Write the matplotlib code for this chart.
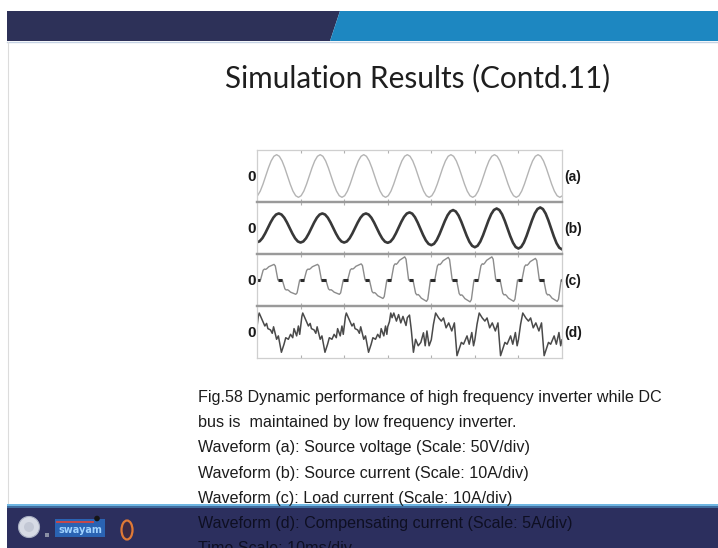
import numpy as np
import matplotlib
matplotlib.use('Agg')
import matplotlib.pyplot as plt
from matplotlib.patches import Polygon, Rectangle, Circle, Ellipse

W, H = 718, 548

TITLE = 'Simulation Results (Contd.11)'
CAPTION = [
    'Fig.58 Dynamic performance of high frequency inverter while DC',
    'bus is  maintained by low frequency inverter.',
    'Waveform (a): Source voltage (Scale: 50V/div)',
    'Waveform (b): Source current (Scale: 10A/div)',
    'Waveform (c): Load current (Scale: 10A/div)',
    'Waveform (d): Compensating current (Scale: 5A/div)',
    'Time Scale: 10ms/div',
]
PANEL_LABELS = ['(a)', '(b)', '(c)', '(d)']
N_DIV = 7

# shape of one half cycle going from one extreme to the next (fraction of swing)
HALF_T = [0, 0.125, 0.25, 0.375, 0.5, 0.625, 0.75, 0.875, 1.0]
HALF_V = [0, 0.038, 0.146, 0.309, 0.5, 0.691, 0.854, 0.962, 1.0]

# (a) source voltage, extremes (time in div, value in half-panel units)
VS_EXT_T = [-0.05, 0.45, 0.95, 1.45, 1.95, 2.45, 2.95, 3.45,
            3.95, 4.45, 4.95, 5.45, 5.95, 6.45, 6.95, 7.45]
VS_EXT_V = [-0.82, 0.82, -0.82, 0.82, -0.82, 0.82, -0.82, 0.82,
            -0.82, 0.82, -0.82, 0.82, -0.82, 0.82, -0.82, 0.82]

# (b) source current, extremes - amplitude grows after 3rd cycle
IS_EXT_T = [0, 0.5, 1, 1.5, 2, 2.5, 3, 3.5, 4, 4.5, 5, 5.5, 6, 6.5, 7]
IS_EXT_V = [-0.55, 0.56, -0.56, 0.56, -0.56, 0.56, -0.57, 0.60,
            -0.66, 0.69, -0.74, 0.75, -0.79, 0.79, -0.82]

# (c) load current, one lobe over half a cycle + lobe heights per cycle
LOBE_U = [0, 0.16, 0.22, 0.28, 0.34, 0.40, 0.46, 0.54, 0.62, 0.70, 0.78, 0.84, 0.90, 0.96, 1.0]
LOBE_V = [0, 0, 0.30, 0.62, 0.70, 0.68, 0.74, 0.85, 0.90, 0.95, 1.0, 0.90, 0.45, 0, 0]
IL_PEAK = [0.60, 0.60, 0.62, 0.89, 0.87, 0.89, 0.83]
IL_TROUGH = [0.55, 0.55, 0.71, 0.82, 0.84, 0.82, 0.82]

# (d) compensating current, one cycle shapes
IC_EARLY_T = [0.0, 0.03, 0.05, 0.10, 0.15, 0.18, 0.22, 0.25, 0.31, 0.35, 0.38, 0.45,
              0.49, 0.56, 0.62, 0.66, 0.72, 0.77, 0.82, 0.85, 0.91, 0.95, 0.98, 1.0]
IC_EARLY_V = [0.20, 0.60, 0.73, 0.54, 0.35, 0.23, 0.33, 0.13, 0.08, -0.05, 0.20, -0.28,
              -0.15, -0.78, -0.47, -0.22, -0.28, -0.09, -0.22, 0.13, -0.15, 0.23, -0.09, 0.20]
IC_MID_T = [0.0, 0.04, 0.07, 0.10, 0.14, 0.20, 0.25, 0.30, 0.35, 0.42, 0.45, 0.50,
            0.54, 0.59, 0.64, 0.70, 0.76, 0.82, 0.86, 0.90, 0.95, 1.0]
IC_MID_V = [0.20, 0.40, 0.73, 0.55, 0.73, 0.42, 0.67, 0.35, 0.60, 0.25, 0.55, 0.65,
            0.10, -0.78, -0.28, -0.53, -0.40, -0.03, -0.53, 0.04, -0.53, -0.30]
IC_LATE_T = [0.0, 0.05, 0.10, 0.17, 0.23, 0.28, 0.34, 0.40, 0.47, 0.53, 0.59,
             0.69, 0.74, 0.82, 0.87, 0.93, 0.97, 1.0]
IC_LATE_V = [-0.30, 0.30, 0.73, 0.54, 0.42, 0.54, 0.16, 0.35, 0.04, 0.35, -0.91,
             -0.40, -0.47, -0.15, -0.47, -0.02, -0.53, -0.30]
IC_CYCLES = ['early', 'early', 'early', 'mid', 'late', 'late', 'late']


def halfwave_series(ext_t, ext_v):
    ts, vs = [ext_t[0]], [ext_v[0]]
    for i in range(len(ext_t) - 1):
        t0, t1 = ext_t[i], ext_t[i + 1]
        v0, v1 = ext_v[i], ext_v[i + 1]
        ts += [t0 + (t1 - t0) * h for h in HALF_T[1:]]
        vs += [v0 + (v1 - v0) * s for s in HALF_V[1:]]
    return np.array(ts), np.array(vs)


def lobe_series(peaks, troughs):
    ts, vs = [], []
    for k in range(N_DIV):
        for j, amp in enumerate([peaks[k], -troughs[k]]):
            t0 = k + 0.5 * j
            ts += [t0 + 0.5 * u for u in LOBE_U]
            vs += [amp * s for s in LOBE_V]
    return np.array(ts), np.array(vs)


def cycle_series(cycles):
    shapes = {'early': (IC_EARLY_T, IC_EARLY_V),
              'mid': (IC_MID_T, IC_MID_V),
              'late': (IC_LATE_T, IC_LATE_V)}
    ts, vs = [], []
    for k, name in enumerate(cycles):
        st, sv = shapes[name]
        ts += [k + t for t in st]
        vs += list(sv)
    return np.array(ts), np.array(vs)


def px(x, y):
    return x / W, 1 - y / H


fig = plt.figure(figsize=(W / 100, H / 100), dpi=100)
fig.patch.set_facecolor('white')

bg = fig.add_axes([0, 0, 1, 1])
bg.set_xlim(0, W)
bg.set_ylim(H, 0)
bg.axis('off')

# top banner
bg.add_patch(Polygon([(7, 11), (340, 11), (330, 41), (7, 41)], closed=True, fc='#2d3158', ec='none'))
bg.add_patch(Polygon([(340, 11), (W, 11), (W, 41), (330, 41)], closed=True, fc='#1d87c1', ec='none'))
bg.plot([7, W], [41.5, 41.5], color='#c4d2e4', lw=1)
bg.plot([7.5, 7.5], [42, 503], color='#dcdcdc', lw=0.8)

# bottom banner
bg.add_patch(Rectangle((7, 503.5), W - 7, H - 503.5, fc='#2c2f5e', ec='none'))
bg.add_patch(Rectangle((7, 503.5), W - 7, 2.5, fc='#6fb6e2', ec='none'))
bg.add_patch(Rectangle((7, 506), W - 7, 2, fc='#3f6c9e', ec='none'))

# logos
bg.add_patch(Circle((29, 527), 10.5, fc='#d7dbe5', ec='#a9afc2', lw=0.8))
bg.add_patch(Circle((29, 527), 5, fc='#c3c8d5', ec='none'))
bg.add_patch(Rectangle((45, 533), 3.5, 3.5, fc='#8a90a5', ec='none'))
bg.add_patch(Rectangle((55, 519), 50, 18, fc='#2a63b3', ec='none'))
bg.plot([57, 93], [521.5, 521.5], color='#c94848', lw=1.4)
bg.add_patch(Circle((97, 518.5), 2.8, fc='#151515', ec='none'))
bg.text(80, 530, 'swayam', ha='center', va='center', fontsize=7, color='#9fd2ff',
        fontweight='bold', family='DejaVu Sans')
bg.add_patch(Ellipse((127, 530), 11, 19, fc='#3b2a45', ec='#e07a36', lw=1.6))

# title
fig.text(*px(418, 87), TITLE, ha='center', va='baseline', fontsize=21.4,
         family=['Lato', 'DejaVu Sans'], color='#1e1e1e')

# waveforms
va_t, va_v = halfwave_series(VS_EXT_T, VS_EXT_V)
vb_t, vb_v = halfwave_series(IS_EXT_T, IS_EXT_V)
vc_t, vc_v = lobe_series(IL_PEAK, IL_TROUGH)
vd_t, vd_v = cycle_series(IC_CYCLES)

series = [(va_t, va_v, '#b4b4b4', 1.0),
          (vb_t, vb_v, '#383838', 1.9),
          (vc_t, vc_v, '#8c8c8c', 1.0),
          (vd_t, vd_v, '#4a4a4a', 1.1)]

left, right = 257, 562
top0, ph = 150, 52
for i, (t, v, col, lw) in enumerate(series):
    top = top0 + ph * i
    ax = fig.add_axes([left / W, 1 - (top + ph) / H, (right - left) / W, ph / H])
    ax.set_facecolor('none')
    ax.plot(t, v, color=col, lw=lw, solid_joinstyle='round')
    if i == 2:
        flat = np.where(v == 0, v, np.nan)
        ax.plot(t, flat, color='#2a2a2a', lw=2.2, solid_capstyle='butt')
    ax.set_xlim(0, N_DIV)
    ax.set_ylim(-1, 1)
    ax.set_yticks([])
    ax.set_xticks(range(1, N_DIV))
    ax.tick_params(axis='x', direction='in', length=2.5, width=0.8, color='#b0b0b0',
                   top=True, bottom=True, labelbottom=False)
    for side in ['left', 'right']:
        ax.spines[side].set_color('#cfcfcf')
        ax.spines[side].set_linewidth(0.9)
    ax.spines['top'].set_color('#cfcfcf' if i == 0 else '#9a9a9a')
    ax.spines['top'].set_linewidth(0.9 if i == 0 else 1.6)
    ax.spines['bottom'].set_color('#cfcfcf' if i == 3 else '#9a9a9a')
    ax.spines['bottom'].set_linewidth(0.9 if i == 3 else 1.6)

    yc = top + ph / 2 + 1
    fig.text(*px(256, yc), '0', ha='right', va='center', fontsize=11,
             fontweight='bold', family='Liberation Sans', color='#1a1a1a')
    fig.text(*px(564, yc), PANEL_LABELS[i], ha='left', va='center', fontsize=10,
             fontweight='bold', family='Liberation Sans', color='#1a1a1a')

# caption
for j, line in enumerate(CAPTION):
    col = '#1c1c1c' if j < 5 else '#0e0f22'
    fig.text(*px(198, 402 + 25.2 * j), line, ha='left', va='baseline', fontsize=11.6,
             family='Liberation Sans', color=col)

fig.savefig('out.png', dpi=100)
